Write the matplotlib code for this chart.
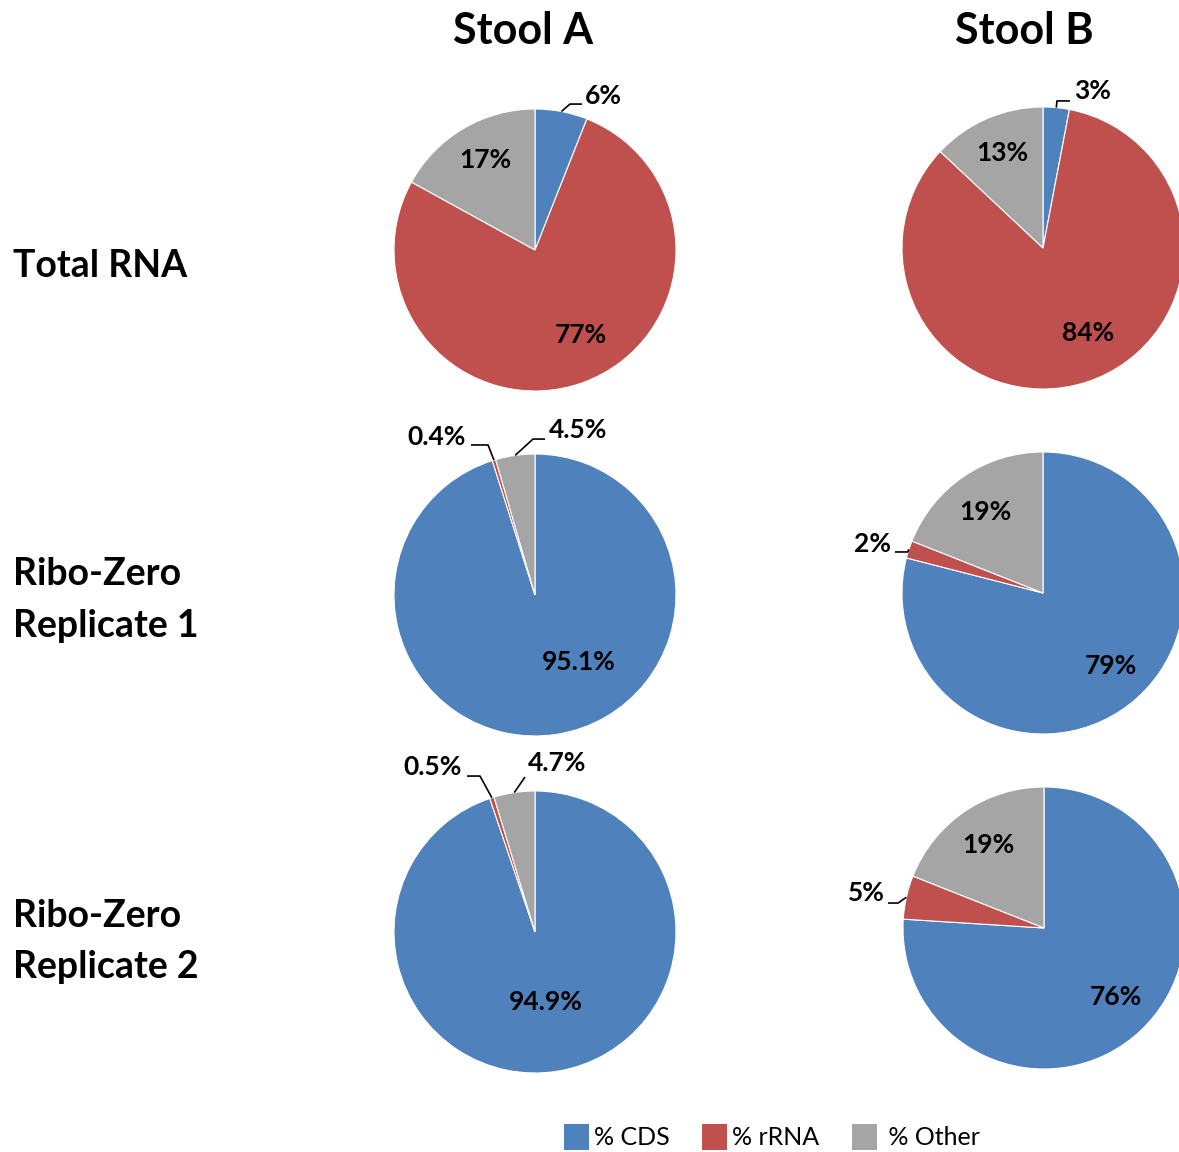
import matplotlib
matplotlib.use("Agg")
import numpy as np
import matplotlib.pyplot as plt
from matplotlib.patches import Patch

# ── Data ─────────────────────────────────────────────────────────────────────
CATEGORIES = ["% CDS", "% rRNA", "% Other"]
COLUMNS    = ["Stool A", "Stool B"]
ROWS       = [["Total RNA"], ["Ribo-Zero", "Replicate 1"], ["Ribo-Zero", "Replicate 2"]]

STOOL_A_TOTAL = [6, 77, 17]
STOOL_B_TOTAL = [3, 84, 13]
STOOL_A_REP1  = [95.1, 0.4, 4.5]
STOOL_B_REP1  = [79, 2, 19]
STOOL_A_REP2  = [94.9, 0.5, 4.7]
STOOL_B_REP2  = [76, 5, 19]

# ── Style / layout ───────────────────────────────────────────────────────────
COLORS = ["#4F81BD", "#C0504D", "#A5A5A5"]
FONT   = ["Lato", "DejaVu Sans"]
W_PX, H_PX = 1179, 1152
R_PX   = 141          # pie radius in pixels
LIM    = 1.5          # axes half-range in pie-radius units

# each pie: values, label format, centre (px), label positions (radius units),
# leader elbows for outside labels (edge point comes from the wedge itself)
PIES = [
    dict(values=STOOL_A_TOTAL, fmt="{:.0f}%", center=(535, 250),
         labels=[(0.482, 1.092), (0.326, -0.603), (-0.355, 0.638)],
         leaders={0: [(0.248, 1.035), (0.333, 1.035)]}),
    dict(values=STOOL_B_TOTAL, fmt="{:.0f}%", center=(1043, 248),
         labels=[(0.348, 1.113), (0.319, -0.603), (-0.291, 0.674)],
         leaders={0: [(0.099, 1.043), (0.191, 1.043)]}),
    dict(values=STOOL_A_REP1, fmt="{:.1f}%", center=(535, 595),
         labels=[(0.312, -0.475), (-0.695, 1.120), (0.305, 1.170)],
         leaders={1: [(-0.333, 1.064), (-0.454, 1.064)],
                  2: [(-0.014, 1.106), (0.071, 1.106)]}),
    dict(values=STOOL_B_REP1, fmt="{:.0f}%", center=(1043, 593),
         labels=[(0.482, -0.518), (-1.206, 0.348), (-0.411, 0.574)],
         leaders={1: [(-0.960, 0.291), (-1.050, 0.291)]}),
    dict(values=STOOL_A_REP2, fmt="{:.1f}%", center=(535, 932),
         labels=[(0.078, -0.496), (-0.723, 1.170), (0.156, 1.199)],
         leaders={1: [(-0.390, 1.106), (-0.482, 1.106)],
                  2: [(-0.071, 1.099)]}),
    dict(values=STOOL_B_REP2, fmt="{:.0f}%", center=(1044, 928),
         labels=[(0.511, -0.489), (-1.262, 0.248), (-0.397, 0.589)],
         leaders={1: [(-1.035, 0.177), (-1.106, 0.177)]}),
]

ROW_Y   = [[266], [574, 626], [916, 967]]   # px, centre of each text line
TITLE_X = [523, 1024]
TITLE_Y = 31

plt.rcParams["font.family"] = FONT

fig = plt.figure(figsize=(W_PX / 100, H_PX / 100), dpi=100)
fig.patch.set_facecolor("white")


def fx(px):
    return px / W_PX


def fy(py):
    return 1 - py / H_PX


for pie in PIES:
    cx, cy = pie["center"]
    half = LIM * R_PX
    ax = fig.add_axes([fx(cx - half), fy(cy + half), 2 * half / W_PX, 2 * half / H_PX])
    wedges, _ = ax.pie(pie["values"], colors=COLORS, startangle=90, counterclock=False,
                       wedgeprops=dict(edgecolor="white", linewidth=0.8))
    ax.set_xlim(-LIM, LIM)
    ax.set_ylim(-LIM, LIM)
    ax.set_aspect("equal")
    ax.axis("off")

    for val, (lx, ly) in zip(pie["values"], pie["labels"]):
        ax.text(lx, ly, pie["fmt"].format(val), ha="center", va="center",
                fontsize=19, fontweight="bold", color="black")
    # leader lines: wedge edge at mid-angle -> elbow -> end
    for i, pts in pie["leaders"].items():
        w = wedges[i]
        mid = np.deg2rad((w.theta1 + w.theta2) / 2)
        xs = [np.cos(mid)] + [p[0] for p in pts]
        ys = [np.sin(mid)] + [p[1] for p in pts]
        ax.plot(xs, ys, color="black", linewidth=1.2, solid_capstyle="butt")

for title, x in zip(COLUMNS, TITLE_X):
    fig.text(fx(x), fy(TITLE_Y), title, ha="center", va="center",
             fontsize=31, fontweight="bold")

for lines, ys in zip(ROWS, ROW_Y):
    for line, y in zip(lines, ys):
        fig.text(fx(13), fy(y), line, ha="left", va="center",
                 fontsize=27, fontweight="bold")

handles = [Patch(facecolor=c, edgecolor="none") for c in COLORS]
labels = [CATEGORIES[0], CATEGORIES[1], " " + CATEGORIES[2]]
fig.legend(handles, labels, loc="center", bbox_to_anchor=(fx(772), fy(1137)),
           ncol=3, frameon=False, fontsize=18, handlelength=1.0, handleheight=1.2,
           handletextpad=0.2, columnspacing=1.3, borderaxespad=0, borderpad=0)

fig.savefig("out.png", dpi=100)
